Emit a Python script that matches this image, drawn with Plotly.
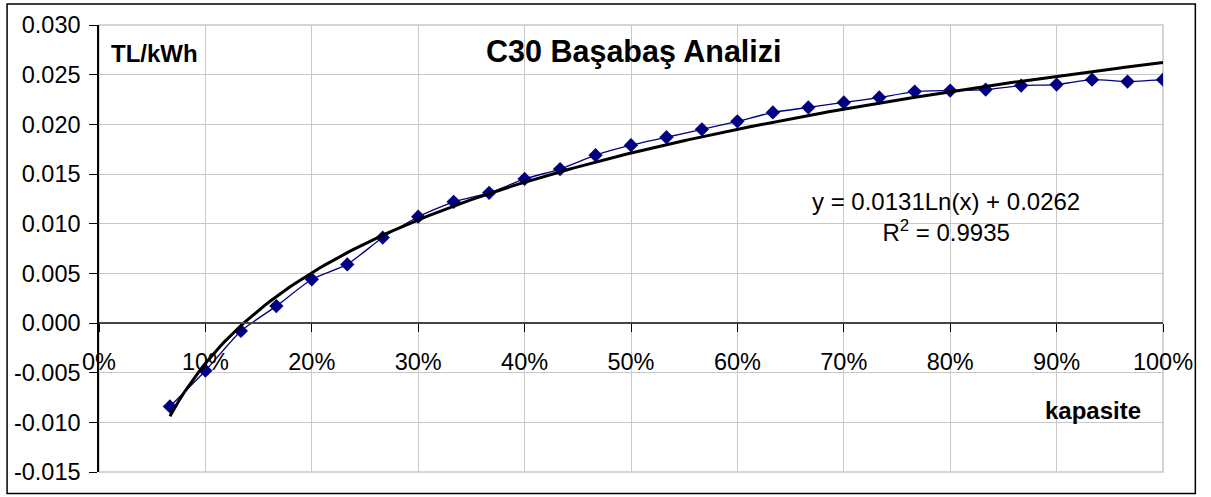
import numpy as np
import plotly.graph_objects as go

# ---- data ----
kapasite = [2/30, 3/30, 4/30, 5/30, 6/30, 7/30, 8/30, 9/30, 10/30, 11/30, 12/30, 13/30,
            14/30, 15/30, 16/30, 17/30, 18/30, 19/30, 20/30, 21/30, 22/30, 23/30, 24/30,
            25/30, 26/30, 27/30, 28/30, 29/30, 30/30]
tl_kwh = [-0.0084, -0.0048, -0.0008, 0.0017, 0.0044, 0.0059, 0.0086, 0.0107, 0.0122,
          0.0131, 0.0145, 0.0155, 0.0169, 0.0179, 0.0187, 0.0195, 0.0203, 0.0212,
          0.0217, 0.0222, 0.0227, 0.0233, 0.0234, 0.0235, 0.0239, 0.0240, 0.0245,
          0.0243, 0.0245]

y_tickvals = [-0.015, -0.010, -0.005, 0.000, 0.005, 0.010, 0.015, 0.020, 0.025, 0.030]
y_ticktext = ["-0.015", "-0.010", "-0.005", "0.000", "0.005", "0.010", "0.015", "0.020", "0.025", "0.030"]
x_tickvals = [0, 0.1, 0.2, 0.3, 0.4, 0.5, 0.6, 0.7, 0.8, 0.9, 1.0]
x_ticktext = ["0%", "10%", "20%", "30%", "40%", "50%", "60%", "70%", "80%", "90%", "100%"]

title_text = "C30 Başabaş Analizi"
y_label = "TL/kWh"
x_label = "kapasite"
eq_text = "y = 0.0131Ln(x) + 0.0262<br>R<sup>2</sup> = 0.9935"

# logarithmic trendline fitted to the data
a, b = np.polyfit(np.log(kapasite), tl_kwh, 1)
xt = np.linspace(min(kapasite), max(kapasite), 200)
yt = a * np.log(xt) + b

FONT = "Liberation Sans, Arial, sans-serif"

fig = go.Figure()
fig.add_trace(go.Scatter(
    x=kapasite, y=tl_kwh, mode="lines+markers",
    line=dict(color="#000080", width=1.3, shape="spline", smoothing=0.5),
    marker=dict(symbol="diamond", size=11, color="#000080"),
    showlegend=False, hoverinfo="skip"))
fig.add_trace(go.Scatter(
    x=xt, y=yt, mode="lines", line=dict(color="black", width=3),
    showlegend=False, hoverinfo="skip"))

fig.update_layout(
    width=1211, height=497,
    margin=dict(l=99, r=48, t=22, b=24),
    paper_bgcolor="white", plot_bgcolor="white",
    font=dict(family=FONT, color="black", size=23),
    xaxis=dict(range=[0, 1], tickvals=x_tickvals, ticktext=x_ticktext,
               showgrid=True, gridcolor="#c8c8c8", gridwidth=1,
               showline=True, linecolor="#444444", linewidth=1.5,
               ticks="outside", ticklen=8, tickcolor="black", tickwidth=1,
               anchor="free", position=1/3, side="bottom",
               ticklabelstandoff=10, zeroline=False,
               tickfont=dict(size=23.5, family=FONT)),
    yaxis=dict(range=[-0.015, 0.030], tickvals=y_tickvals, ticktext=y_ticktext,
               showgrid=True, gridcolor="#c8c8c8", gridwidth=1,
               showline=True, linecolor="black", linewidth=1.5,
               ticks="outside", ticklen=8, tickcolor="black", tickwidth=1,
               zeroline=False, ticklabelstandoff=4,
               tickfont=dict(size=23.5, family=FONT)),
    shapes=[
        dict(type="rect", xref="paper", yref="paper", x0=0, x1=1, y0=0, y1=1,
             line=dict(color="#c8c8c8", width=1.5), layer="below"),
        dict(type="rect", xref="paper", yref="paper", x0=-0.0864, x1=1.0304,
             y0=-0.0481, y1=1.0472, line=dict(color="black", width=1.5)),
    ],
    annotations=[
        dict(text="<b>" + title_text + "</b>", xref="paper", yref="paper",
             x=0.5025, y=0.9408, showarrow=False, font=dict(size=30.5, family=FONT),
             xanchor="center", yanchor="middle"),
        dict(text="<b>" + y_label + "</b>", xref="paper", yref="paper",
             x=0.0517, y=0.9364, showarrow=False, font=dict(size=24, family=FONT),
             xanchor="center", yanchor="middle"),
        dict(text="<b>" + x_label + "</b>", xref="paper", yref="paper",
             x=0.9346, y=0.138, showarrow=False, font=dict(size=24, family=FONT),
             xanchor="center", yanchor="middle"),
        dict(text=eq_text, xref="paper", yref="paper",
             x=0.7956, y=0.5694, showarrow=False, font=dict(size=24, family=FONT),
             xanchor="center", yanchor="middle", align="center"),
    ],
)

fig.write_html("out.html")
